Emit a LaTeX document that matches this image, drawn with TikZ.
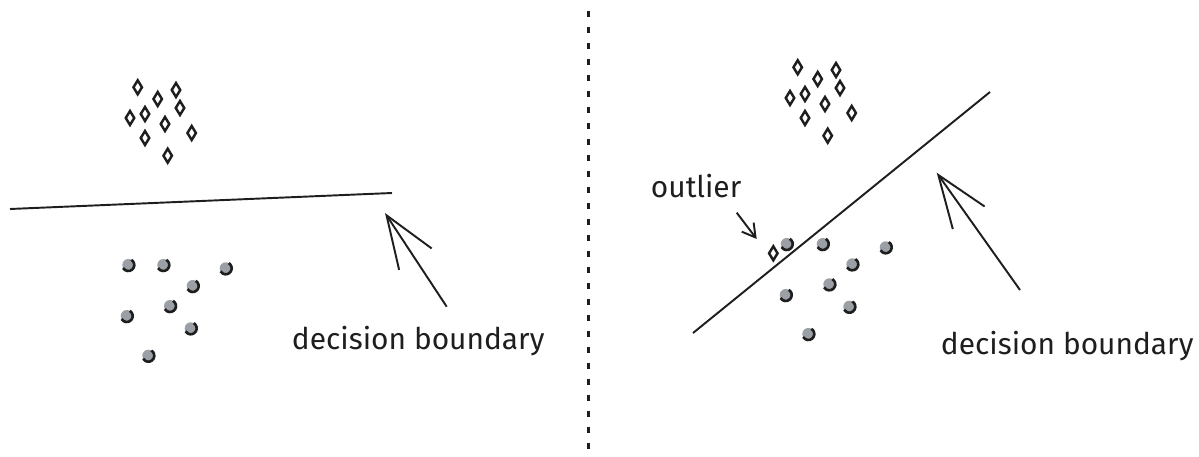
\documentclass[tikz,border=0pt]{standalone}
\usepackage{fontspec}
\setmainfont{Fira Sans}
\usetikzlibrary{arrows.meta, positioning, shapes.geometric}

\definecolor{ink}{HTML}{1E1E1E}
\definecolor{dotgray}{HTML}{9AA0A6}

\begin{document}
\begin{tikzpicture}[x=0.02cm, y=-0.02cm, line width=1.1pt, draw=ink,
    big arrow/.style={-{Straight Barb[length=1.05cm, width=0.78cm]}, line width=1.1pt},
    small arrow/.style={-{Straight Barb[length=0.26cm, width=0.3cm]}, line width=1.1pt},
    label text/.style={font=\fontsize{17}{20}\selectfont, text=ink, inner sep=0pt}]
  \tikzstyle{mark diamond}=[diamond, draw=ink, line width=1.4pt, fill=white,
     minimum width=0.19cm, minimum height=0.3cm, inner sep=0pt]
  \useasboundingbox (0,0) rectangle (1199,456);

  % left panel: diamonds
  \foreach \x/\y [count=\i] in {137.7/87.3, 176/90, 157.7/99, 180/108, 130/118,
      145/114, 165/124, 145/138, 191.7/133, 167.7/155.7}
    \node[mark diamond] (dl\i) at (\x,\y) {};
  % left panel: dots
  \foreach \x/\y in {128.3/265, 163.3/265, 225.7/268.3, 192.7/286, 170/306,
      126.7/316, 190.7/328.3, 148.3/355.7} {
    \fill[dotgray] (\x,\y) circle[radius=0.12cm];
    \draw[line width=1.5pt] (\x,\y) ++(60:0.12cm) arc[start angle=60, end angle=-150, radius=0.12cm];
  }
  \coordinate (bl1) at (10,209);
  \coordinate (bl2) at (392,193);
  \draw (bl1) -- (bl2);
  \node[label text, anchor=base west] (dbl) at (291,349) {decision boundary};
  \coordinate (tl) at (446.7,306.7);
  \coordinate (hl) at (385,213);
  \draw[big arrow] (tl) -- (hl);

  % separator
  \coordinate (s1) at (588,11);
  \coordinate (s2) at (588,456);
  \draw[line width=1.7pt, dash pattern=on 3.4pt off 5.7pt] (s1) -- (s2);

  % right panel: diamonds
  \foreach \x/\y [count=\i] in {797.7/67.3, 836/70, 817.7/79, 840/88, 790/98,
      805/94, 825/104, 805/118, 851.7/113, 827.7/135.7}
    \node[mark diamond] (dr\i) at (\x,\y) {};
  \node[mark diamond] (outl) at (773.3,253.3) {};
  % right panel: dots
  \foreach \x/\y in {786.7/244, 822.7/244, 885.7/247.3, 852.3/264.3, 829.3/284.3,
      785.7/295, 849.3/306.7, 808.3/334} {
    \fill[dotgray] (\x,\y) circle[radius=0.12cm];
    \draw[line width=1.5pt] (\x,\y) ++(60:0.12cm) arc[start angle=60, end angle=-150, radius=0.12cm];
  }
  \coordinate (br1) at (693,333);
  \coordinate (br2) at (990,92);
  \draw (br1) -- (br2);
  \node[label text, anchor=base west] (outtxt) at (650,197) {outlier};
  \coordinate (to) at (736.7,212.7);
  \coordinate (ho) at (756.7,239);
  \draw[small arrow] (to) -- (ho);
  \node[label text, anchor=base west] (dbr) at (940,354) {decision boundary};
  \coordinate (tr) at (1020,290);
  \coordinate (hr) at (936.7,172.7);
  \draw[big arrow] (tr) -- (hr);
\end{tikzpicture}
\end{document}
